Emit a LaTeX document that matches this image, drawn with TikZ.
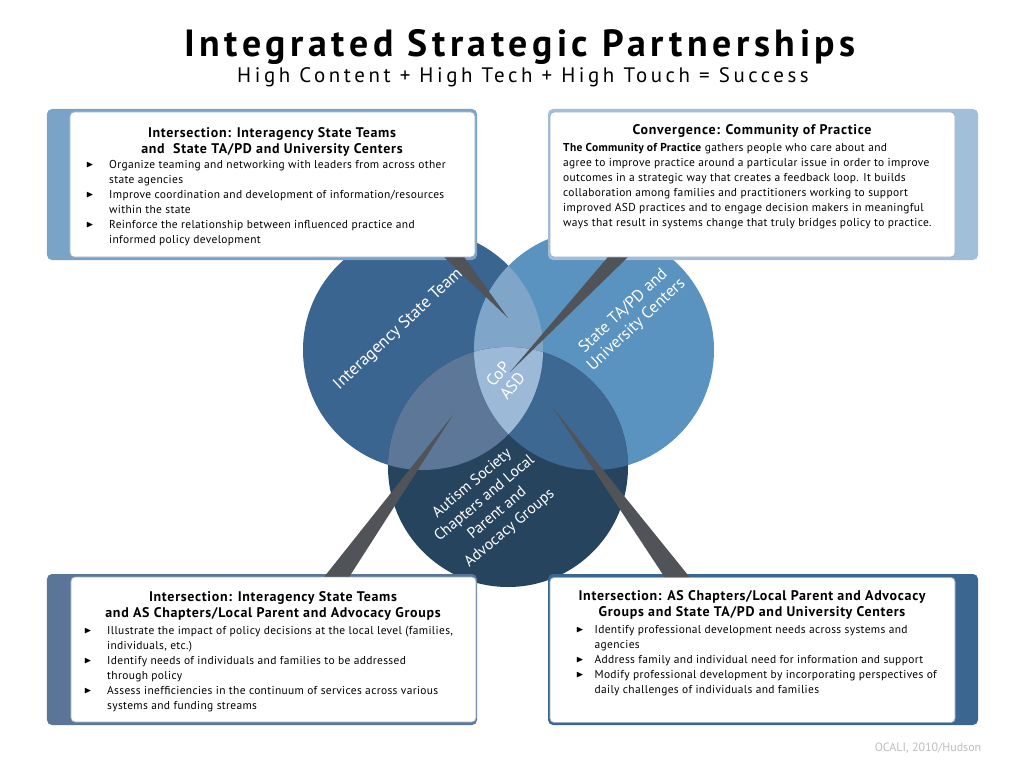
\documentclass[tikz,border=0pt]{standalone}
\usepackage{fontspec}
\setmainfont{PT Sans}
\usepackage{amssymb}
\usetikzlibrary{
  positioning,
  calc
}
\definecolor{istblue}{HTML}{3A6591}
\definecolor{stablue}{HTML}{5A92C0}
\definecolor{ascblue}{HTML}{27445F}
\definecolor{lenstop}{HTML}{7FA6C9}
\definecolor{lensleft}{HTML}{5C7798}
\definecolor{lensright}{HTML}{3D6891}
\definecolor{lenscore}{HTML}{9CBAD7}
\definecolor{wedgegray}{HTML}{505358}
\definecolor{cardline}{HTML}{9AAFC4}
\definecolor{tlback}{HTML}{7AA3C8}
\definecolor{trback}{HTML}{A2BFD9}
\definecolor{blback}{HTML}{5A7598}
\definecolor{brback}{HTML}{3B6690}
\definecolor{footgray}{HTML}{BDBDBD}
\newcommand{\pbullet}[1][23bp]{\makebox[#1][l]{\raisebox{0.6bp}{\scalebox{0.85}{$\blacktriangleright$}}}}
\newcommand{\pindent}[1][23bp]{\hspace*{#1}}

\begin{document}
\begin{tikzpicture}[x=1bp, y=-1bp,
  venn/.style={circle, inner sep=0pt, minimum size=240bp},
  vlabel/.style={text=white, font=\fontsize{16.5}{19}\selectfont, align=center},
  back/.style={rounded corners=5bp, minimum width=430bp, minimum height=151bp, inner sep=0pt},
  card/.style={fill=white, draw=cardline, line width=0.8bp, rounded corners=4bp, minimum width=405bp, minimum height=145bp, inner sep=0pt},
  head/.style={font=\fontsize{14}{16.5}\selectfont\bfseries\addfontfeatures{LetterSpace=5}, align=center},
  body/.style={font=\fontsize{11.5}{15}\selectfont\addfontfeatures{LetterSpace=3}, align=left, inner sep=0pt, anchor=north west},
  wedge/.style={fill=wedgegray}
]
  \useasboundingbox[fill=white] (0,0) rectangle (1024,768);

  % title
  \node[font=\fontsize{38}{38}\selectfont\bfseries\addfontfeatures{LetterSpace=12}] (title) at (520,47) {Integrated Strategic Partnerships};
  \node[font=\fontsize{21}{21}\selectfont\addfontfeatures{LetterSpace=17}] (subtitle) at (523,77) {High Content + High Tech + High Touch = Success};

  % venn circles
  \node[venn, fill=istblue] (ist) at (423,350) {};
  \node[venn, fill=stablue] (sta) at (594,350) {};
  \node[venn, fill=ascblue] (asc) at (508,467) {};

  \begin{scope}
    \clip (ist.center) circle [radius=120bp];
    \fill[lenstop] (sta.center) circle [radius=120bp];
    \fill[lensleft] (asc.center) circle [radius=120bp];
  \end{scope}
  \begin{scope}
    \clip (sta.center) circle [radius=120bp];
    \fill[lensright] (asc.center) circle [radius=120bp];
  \end{scope}
  \begin{scope}
    \clip (ist.center) circle [radius=120bp];
    \clip (sta.center) circle [radius=120bp];
    \fill[lenscore] (asc.center) circle [radius=120bp];
  \end{scope}

  \node[vlabel, rotate=43, font=\fontsize{17}{19}\selectfont] (istlabel) at (401,327) {Interagency State Teams};
  \node[vlabel, rotate=43] (stalabel) at (630,318) {State TA/PD and\\University Centers};
  \node[vlabel, rotate=50] (coplabel) at (505,380) {CoP\\ASD};
  \node[vlabel, rotate=40, font=\fontsize{15.5}{19.5}\selectfont] (asclabel) at (491,506) {Autism Society\\Chapters and Local\\Parent and\\Advocacy Groups};

  % boxes
  \node[back, fill=tlback] (tlback) at (262,184.5) {};
  \node[back, fill=trback] (trback) at (763,184.5) {};
  \node[back, fill=blback] (blback) at (262,649.5) {};
  \node[back, fill=brback] (brback) at (763,649.5) {};

  \node[card] (tlbox) at (272.5,184.5) {};
  \node[card] (trbox) at (752.5,184.5) {};
  \node[card] (blbox) at (273.5,649.5) {};
  \node[card] (brbox) at (752.5,650) {};

  % pointers
  \coordinate (tltip) at (508,318);
  \coordinate (trtip) at (510,372);
  \coordinate (bltip) at (453,415);
  \coordinate (brtip) at (553,408);
  \fill[wedge] ($(tlbox.south east)+(-31,0)$) -- (tltip) -- ($(tlbox.south east)+(-11,0)$) -- cycle;
  \fill[wedge] ($(trbox.south west)+(58,0)$) -- (trtip) -- ($(trbox.south west)+(78,0)$) -- cycle;
  \fill[wedge] ($(blbox.north east)+(-152,0)$) -- (bltip) -- ($(blbox.north east)+(-127,0)$) -- cycle;
  \fill[wedge] ($(brbox.north west)+(115,0)$) -- (brtip) -- ($(brbox.north west)+(140,0)$) -- cycle;

  % box texts
  \node[head] (tlhead) at (272,142) {Intersection: Interagency State Teams\\and~ State TA/PD and University Centers};
  \node[body] (tlbody) at (86,160) {\pbullet Organize teaming and networking with leaders from across other\\
    \pindent state agencies\\
    \pbullet Improve coordination and development of information/resources\\
    \pindent within the state\\
    \pbullet Reinforce the relationship between influenced practice and\\
    \pindent informed policy development};

  \node[head] (trhead) at (752,131) {Convergence: Community of Practice};
  \node[body] (trbody) at (563,143) {\textbf{The Community of Practice} gathers people who care about and\\
    agree to improve practice around a particular issue in order to improve\\
    outcomes in a strategic way that creates a feedback loop. It builds\\
    collaboration among families and practitioners working to support\\
    improved ASD practices and to engage decision makers in meaningful\\
    ways that result in systems change that truly bridges policy to practice.};

  \node[head] (blhead) at (273,606) {Intersection: Interagency State Teams\\and AS Chapters/Local Parent and Advocacy Groups};
  \node[body] (blbody) at (84,626) {\pbullet Illustrate the impact of policy decisions at the local level (families,\\
    \pindent individuals, etc.)\\
    \pbullet Identify needs of individuals and families to be addressed\\
    \pindent through policy\\
    \pbullet Assess inefficiencies in the continuum of services across various\\
    \pindent systems and funding streams};

  \node[head] (brhead) at (752,605) {Intersection: AS Chapters/Local Parent and Advocacy\\Groups and State TA/PD and University Centers};
  \node[body] (brbody) at (576,625) {\pbullet[15bp] Identify professional development needs across systems and\\
    \pindent[15bp] agencies\\
    \pbullet[15bp] Address family and individual need for information and support\\
    \pbullet[15bp] Modify professional development by incorporating perspectives of\\
    \pindent[15bp] daily challenges of individuals and families};

  \node[text=footgray, font=\fontsize{12}{12}\selectfont] (footer) at (928,748) {OCALI, 2010/Hudson};
\end{tikzpicture}
\end{document}
